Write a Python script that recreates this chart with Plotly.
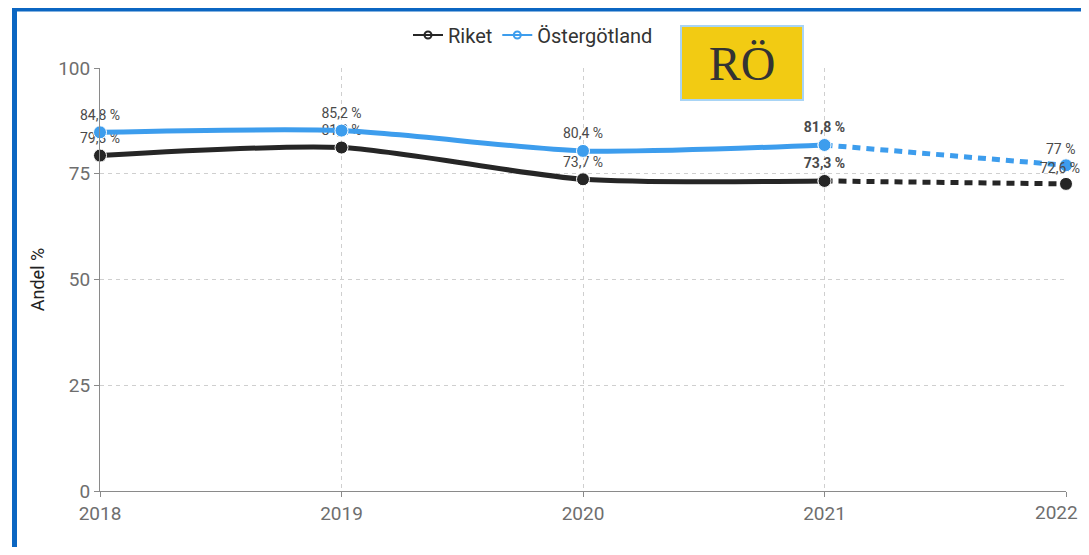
import plotly.graph_objects as go

YEARS = [2018, 2019, 2020, 2021, 2022]
RIKET = [79.3, 81.2, 73.7, 73.3, 72.6]
OSTERGOTLAND = [84.8, 85.2, 80.4, 81.8, 77.0]
Y_TICKS = [0, 25, 50, 75, 100]

DARK = "#262626"
BLUE = "#3d9ded"
GRID = "#cfcfcf"
TICK_GRAY = "#6e6e6e"
FRAME_BLUE = "#0b66c2"
YELLOW = "#f2cb13"
LABEL_FONT = dict(size=14, color="#4a4a4a", family="Roboto")
TICK_FONT = dict(size=19, color=TICK_GRAY, family="Roboto")

# the page body adds 8px on each side, so the figure is that much smaller than the window
OFF = 8
W, H = 1089 - 2 * OFF, 555 - 2 * OFF
L, T = 100 - OFF, 68 - OFF
R, B = W - (1066 - OFF), H - (491 - OFF)
PW, PH = W - L - R, H - T - B


def px_x(x):
    # page pixel -> paper coordinate
    return (x - OFF - L) / PW


def px_y(y):
    return (H - B - (y - OFF)) / PH


def pct(v):
    s = f"{v:.1f}".rstrip("0").rstrip(".")
    return s.replace(".", ",") + " %"


def labels(vals, bold_idx=3):
    out = []
    for i, v in enumerate(vals):
        t = pct(v)
        out.append(f"<b>{t}</b>" if i == bold_idx else t)
    return out


fig = go.Figure()

for name, vals, color in [("Riket", RIKET, DARK), ("Östergötland", OSTERGOTLAND, BLUE)]:
    txt = labels(vals)
    # actual values, solid
    fig.add_trace(go.Scatter(
        x=YEARS[:4], y=vals[:4], name=name, mode="lines+markers+text",
        line=dict(color=color, width=5, shape="spline", smoothing=0.7),
        marker=dict(size=13, color=color, line=dict(color="white", width=1)),
        text=txt[:4], textposition="top center", textfont=LABEL_FONT,
        showlegend=False, cliponaxis=False,
    ))
    # forecast, dashed
    fig.add_trace(go.Scatter(
        x=YEARS[3:], y=vals[3:], name=name, mode="lines+markers",
        line=dict(color=color, width=5, dash="8px,6px"),
        marker=dict(size=13, color=color, line=dict(color="white", width=1)),
        showlegend=False, cliponaxis=False,
    ))
    # last label nudged left so it stays on the page
    fig.add_annotation(
        x=YEARS[4], y=vals[4], text=txt[4], showarrow=False,
        xanchor="center", yanchor="bottom", xshift=-6, yshift=6, font=LABEL_FONT,
    )
    # legend entry with the small open-circle symbol
    fig.add_trace(go.Scatter(
        x=[None], y=[None], name=name, mode="lines+markers",
        line=dict(color=color, width=2),
        marker=dict(size=7, symbol="circle-open", color=color, line=dict(width=2)),
    ))

# last year label drawn separately, kept inside the right edge
tick_text = [str(y) for y in YEARS[:-1]] + [""]
fig.add_annotation(
    x=YEARS[-1], y=0, xref="x", yref="paper", text=str(YEARS[-1]), showarrow=False,
    xanchor="right", yanchor="top", xshift=14, yshift=-8, font=TICK_FONT,
)

fig.update_layout(
    width=W, height=H,
    margin=dict(l=L, r=R, t=T, b=B, autoexpand=False),
    paper_bgcolor="white",
    plot_bgcolor="white",
    font=dict(family="Roboto", color="#333"),
    showlegend=True,
    legend=dict(
        orientation="h", x=px_x(533), y=px_y(35), xanchor="center", yanchor="middle",
        font=dict(size=20, color="#333"), itemwidth=30, tracegroupgap=0,
    ),
    xaxis=dict(
        range=[2018, 2022], tickvals=YEARS, ticktext=tick_text,
        showgrid=True, gridcolor=GRID, griddash="4px,4px",
        showline=True, linecolor="#8a8a8a", ticks="outside", ticklen=5, tickcolor="#8a8a8a",
        tickfont=TICK_FONT, zeroline=False,
        ticklabeloverflow="allow", automargin=False,
    ),
    yaxis=dict(
        range=[0, 100], tickvals=Y_TICKS,
        showgrid=True, gridcolor=GRID, griddash="4px,4px",
        showline=True, linecolor="#8a8a8a", ticks="outside", ticklen=5, tickcolor="#8a8a8a",
        tickfont=TICK_FONT, zeroline=False, automargin=False,
        title=dict(text="Andel %", font=dict(size=18, color="#222"), standoff=8),
    ),
)

# blue frame around the card (left and top edges visible)
fig.add_shape(
    type="path", xref="paper", yref="paper",
    path=f"M {px_x(14.5)} {px_y(580)} L {px_x(14.5)} {px_y(9)} L {px_x(1100)} {px_y(9)}",
    line=dict(color=FRAME_BLUE, width=5), layer="above",
)

# RÖ badge
fig.add_annotation(
    x=px_x(742), y=px_y(63), xref="paper", yref="paper",
    xanchor="center", yanchor="middle",
    text="RÖ", showarrow=False,
    font=dict(family="Liberation Serif", size=48, color="#333"),
    bgcolor=YELLOW, bordercolor="#a8d4f5", borderwidth=2, borderpad=0,
    width=120, height=72,
)

fig.write_html("out.html")
